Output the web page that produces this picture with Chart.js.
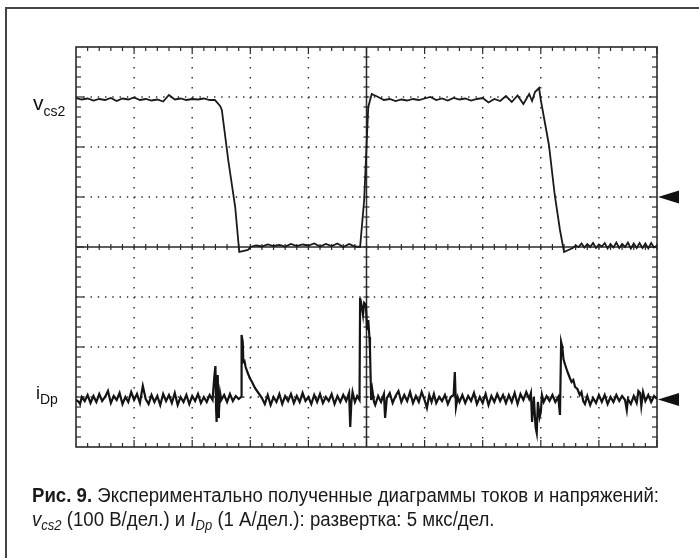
<!DOCTYPE html>
<html>
<head>
<meta charset="utf-8">
<script src="https://cdn.jsdelivr.net/npm/chart.js@4"></script>
<style>
  html, body { margin: 0; padding: 0; background: #fff; }
  #wrap { position: relative; width: 699px; height: 558px; overflow: hidden; background: #fff; }
  #frame { position: absolute; left: 5px; top: 7px; width: 700px; height: 560px;
           border-top: 2px solid #444; border-left: 2px solid #444; }
  #scope { position: absolute; left: 0; top: 0; }
  .lbl { position: absolute; font-family: "Liberation Sans", Arial, sans-serif; color: #111;
         line-height: 1; white-space: nowrap; }
  .lbl sub { font-size: 14px; vertical-align: baseline; position: relative; top: 6px; }
  .cap { position: absolute; left: 32px; font-family: "Liberation Sans Narrow", "Liberation Sans", Arial, sans-serif;
         font-size: 20px; line-height: 1; color: #1a1a1a; white-space: nowrap; transform-origin: 0 0; }
  .cap b { font-weight: bold; }
  .cap sub { font-size: 14px; vertical-align: baseline; position: relative; top: 4px; }
</style>
</head>
<body>
<div id="wrap">
  <div id="frame"></div>
  <canvas id="scope" width="699" height="558"></canvas>
  <div class="lbl" id="lblV" style="left:33px; top:92px; font-size:21px;">v<sub>cs2</sub></div>
  <div class="lbl" id="lblI" style="left:36px; top:384px; font-size:18px;">i<sub style="top:5px">Dp</sub></div>
  <div class="cap" id="cap1" style="top:485px;"><b>Рис. 9.</b> Экспериментально полученные диаграммы токов и напряжений:</div>
  <div class="cap" id="cap2" style="top:509px;"><i>v</i><sub><i>cs2</i></sub> (100 В/дел.) и <i>I</i><sub><i>Dp</i></sub> (1 А/дел.): развертка: 5 мкс/дел.</div>
</div>
<script>
// --- Screen layout (divisions) ---
const xDivisions = [0, 1, 2, 3, 4, 5, 6, 7, 8, 9, 10];
const yDivisions = [-4, -3, -2, -1, 0, 1, 2, 3, 4];
const refLevels = [1, -3.05]; // ground markers on the right edge

// --- v_cs2 trace (div) ---
const vTime = [
  0, 0.1, 0.2, 0.3, 0.4, 0.5, 0.6, 0.7, 0.8, 0.9, 1.0, 1.1, 1.2, 1.3, 1.4, 1.5, 1.6, 1.7, 1.8, 1.9,
  2.0, 2.1, 2.2, 2.3, 2.39, 2.48, 2.51, 2.62, 2.74, 2.81, 2.96,
  3.0, 3.1, 3.2, 3.3, 3.4, 3.5, 3.6, 3.7, 3.8, 3.9, 4.0, 4.1, 4.2, 4.3, 4.4, 4.5, 4.6, 4.7, 4.8, 4.89,
  4.96, 5.03, 5.09, 5.2, 5.3, 5.4, 5.5, 5.6, 5.7, 5.8, 5.9, 6.0, 6.1, 6.2, 6.3, 6.4, 6.5, 6.6, 6.7,
  6.8, 6.9, 7.0, 7.1, 7.2, 7.3, 7.4, 7.5, 7.6, 7.7, 7.8, 7.85, 7.9, 7.97,
  8.0, 8.14, 8.24, 8.33, 8.40, 8.55, 8.6, 8.65, 8.7, 8.75, 8.8, 8.85, 8.9, 8.95, 9.0, 9.05, 9.1, 9.15,
  9.2, 9.25, 9.3, 9.35, 9.4, 9.45, 9.5, 9.55, 9.6, 9.65, 9.7, 9.75, 9.8, 9.85, 9.9, 9.95, 10.0
];
const vVolt = [
  2.98, 2.95, 2.97, 2.93, 2.96, 2.94, 2.98, 2.92, 2.97, 2.95, 2.99, 2.94, 2.96, 2.93, 2.95, 2.91, 3.04, 2.95, 2.97, 2.94,
  2.96, 2.95, 2.97, 2.94, 2.94, 2.82, 2.74, 1.74, 0.80, -0.10, -0.06,
  0.0, 0.03, 0.01, 0.05, 0.02, 0.04, 0.01, 0.06, 0.02, 0.05, 0.03, 0.07, 0.01, 0.06, 0.02, 0.07, 0.0, 0.06, 0.01, 0.0,
  0.94, 2.80, 3.06, 3.0, 2.94, 2.96, 2.92, 2.95, 2.93, 2.96, 2.94, 2.97, 3.0, 2.94, 2.97, 2.93, 2.98, 2.95, 2.97,
  2.93, 2.96, 2.98, 2.89, 2.96, 2.92, 3.02, 2.90, 3.03, 2.86, 3.06, 2.92, 3.10, 3.18,
  2.94, 2.04, 1.04, 0.34, -0.10, -0.02, 0.03, 0.0, 0.07, -0.01, 0.06, 0.0, 0.08, -0.02, 0.05, 0.01, 0.08, -0.03,
  0.06, -0.01, 0.09, -0.02, 0.06, 0.0, 0.09, -0.03, 0.07, -0.02, 0.08, -0.02, 0.07, -0.03, 0.08, -0.01, 0.03
];

// --- i_Dp trace (div) ---
const iTime = [
  0.00, 0.05, 0.07, 0.10, 0.15, 0.20, 0.25, 0.30, 0.35, 0.40, 0.45, 0.50, 0.55, 0.60, 0.65, 0.70, 0.75, 0.80, 0.85, 0.90,
  0.95, 1.00, 1.05, 1.10, 1.15, 1.20, 1.25, 1.30, 1.35, 1.40, 1.45, 1.50, 1.55, 1.60, 1.65, 1.70, 1.75, 1.80, 1.85, 1.90,
  1.95, 2.00, 2.05, 2.10, 2.15, 2.20, 2.25, 2.30, 2.35, 2.38, 2.40, 2.41, 2.42, 2.43, 2.44, 2.45, 2.46, 2.48, 2.50, 2.55,
  2.60, 2.65, 2.70, 2.75, 2.80, 2.84, 2.85, 2.87, 2.88, 2.90, 2.92, 2.95, 2.99, 3.03, 3.08, 3.14, 3.20, 3.25, 3.30, 3.35,
  3.40, 3.45, 3.50, 3.55, 3.60, 3.65, 3.70, 3.75, 3.80, 3.85, 3.90, 3.95, 4.00, 4.05, 4.10, 4.15, 4.20, 4.25, 4.30, 4.35,
  4.40, 4.45, 4.50, 4.55, 4.60, 4.65, 4.70, 4.72, 4.74, 4.76, 4.80, 4.84, 4.88, 4.89, 4.92, 4.94, 4.96, 4.99, 5.01, 5.03,
  5.05, 5.06, 5.08, 5.10, 5.13, 5.15, 5.20, 5.25, 5.30, 5.32, 5.35, 5.40, 5.45, 5.50, 5.55, 5.60, 5.65, 5.70, 5.75, 5.80,
  5.85, 5.90, 5.95, 6.00, 6.04, 6.08, 6.12, 6.16, 6.20, 6.25, 6.30, 6.35, 6.40, 6.45, 6.50, 6.52, 6.54, 6.57, 6.60, 6.65,
  6.70, 6.75, 6.80, 6.85, 6.90, 6.95, 7.00, 7.05, 7.10, 7.15, 7.20, 7.25, 7.30, 7.35, 7.40, 7.45, 7.50, 7.55, 7.60, 7.65,
  7.70, 7.75, 7.80, 7.83, 7.85, 7.88, 7.91, 7.93, 7.95, 7.98, 8.00, 8.02, 8.05, 8.10, 8.15, 8.20, 8.25, 8.30, 8.33, 8.35,
  8.37, 8.39, 8.42, 8.46, 8.50, 8.53, 8.56, 8.59, 8.63, 8.67, 8.70, 8.73, 8.76, 8.80, 8.85, 8.90, 8.95, 9.00, 9.05, 9.10,
  9.15, 9.20, 9.25, 9.30, 9.35, 9.40, 9.45, 9.48, 9.50, 9.55, 9.60, 9.65, 9.68, 9.71, 9.73, 9.76, 9.80, 9.85, 9.90, 9.95,
  10.00
];
const iAmp = [
  -3.06, -3.10, -3.14, -3.00, -3.08, -2.96, -3.12, -2.98, -3.10, -2.94, -3.08, -3.00, -2.88, -3.12, -2.98, -3.06, -2.92, -3.14, -3.00, -3.10,
  -2.90, -3.06, -2.94, -3.12, -2.78, -3.04, -3.14, -2.96, -3.10, -2.98, -3.16, -2.94, -3.08, -2.96, -3.12, -2.92, -3.16, -3.00, -3.10, -2.96,
  -3.14, -2.98, -3.08, -2.94, -3.12, -3.00, -3.10, -2.96, -3.06, -2.60, -2.38, -3.20, -3.50, -2.70, -2.56, -3.40, -3.30, -2.92, -3.06, -2.96,
  -3.10, -2.94, -3.08, -2.98, -3.04, -3.00, -1.76, -1.90, -2.30, -2.28, -2.40, -2.50, -2.62, -2.70, -2.82, -2.92, -3.02, -3.14, -2.96, -3.16,
  -3.00, -3.10, -2.94, -3.14, -2.98, -3.08, -2.94, -3.12, -2.98, -3.10, -2.92, -3.08, -3.00, -3.14, -2.96, -3.10, -2.94, -3.12, -3.00, -3.08,
  -2.94, -3.14, -2.98, -3.10, -2.96, -3.08, -2.92, -3.60, -3.10, -2.90, -3.10, -2.98, -3.06, -1.02, -1.20, -1.36, -1.12, -1.16, -1.66, -1.46,
  -1.80, -2.06, -3.06, -2.86, -3.10, -3.16, -2.98, -3.10, -2.94, -3.42, -3.02, -2.92, -3.12, -2.98, -2.88, -3.10, -2.96, -3.08, -2.90, -3.12,
  -2.98, -3.10, -2.90, -3.06, -3.22, -2.96, -3.10, -2.94, -3.12, -3.00, -3.08, -2.96, -3.14, -3.00, -2.96, -2.50, -3.20, -3.00, -3.10, -2.96,
  -3.12, -2.98, -3.08, -2.92, -3.14, -3.00, -3.12, -2.94, -3.16, -2.98, -3.10, -2.94, -3.08, -2.96, -3.12, -2.96, -3.10, -2.92, -3.14, -2.94,
  -3.06, -2.90, -3.04, -2.92, -3.50, -3.00, -3.60, -3.72, -3.10, -3.40, -3.30, -2.96, -3.10, -2.98, -3.08, -2.96, -3.10, -3.00, -3.36, -1.90,
  -2.00, -2.24, -2.36, -2.50, -2.62, -2.70, -2.66, -2.80, -2.84, -2.96, -2.90, -3.08, -3.14, -2.98, -3.16, -3.02, -3.12, -2.96, -3.10, -2.96,
  -3.14, -3.00, -3.10, -2.96, -3.08, -2.98, -3.06, -3.26, -3.04, -3.14, -2.98, -3.12, -2.88, -2.92, -3.18, -2.90, -3.08, -2.96, -3.10, -2.98,
  -3.04
];

const toPoints = (xs, ys) => xs.map((t, k) => ({ x: t, y: ys[k] }));

// --- Scope graticule: dotted grid, centre cross, border ticks, ground markers ---
const graticule = {
  id: 'graticule',
  beforeDatasetsDraw(chart) {
    const { ctx, chartArea: a, scales: { x, y } } = chart;
    const seg = (x1, y1, x2, y2) => { ctx.beginPath(); ctx.moveTo(x1, y1); ctx.lineTo(x2, y2); ctx.stroke(); };
    ctx.save();
    ctx.strokeStyle = '#2a2a2a';

    // dotted division lines
    ctx.lineWidth = 1.4;
    const hDot = (x.getPixelForValue(1) - x.getPixelForValue(0)) / 8;
    const vDot = (y.getPixelForValue(0) - y.getPixelForValue(1)) / 5;
    ctx.setLineDash([1.4, vDot - 1.4]);
    xDivisions.slice(1, -1).forEach(v => {
      if (v === 5) return;
      const px = x.getPixelForValue(v);
      seg(px, a.top, px, a.bottom);
    });
    ctx.setLineDash([1.4, hDot - 1.4]);
    yDivisions.slice(1, -1).forEach(v => {
      if (v === 0) return;
      const py = y.getPixelForValue(v);
      seg(a.left, py, a.right, py);
    });
    ctx.setLineDash([]);

    // centre cross
    ctx.lineWidth = 1.5;
    const cx = x.getPixelForValue(5), cy = y.getPixelForValue(0);
    seg(cx, a.top, cx, a.bottom);
    seg(a.left, cy, a.right, cy);

    // minor ticks (5 per division)
    ctx.lineWidth = 1.2;
    for (let v = 0.2; v < 10; v += 0.2) {
      const px = x.getPixelForValue(v);
      const major = Math.abs(v - Math.round(v)) < 1e-6;
      seg(px, a.top, px, a.top + (major ? 7 : 4));
      seg(px, a.bottom, px, a.bottom - (major ? 7 : 4));
      seg(px, cy - 3, px, cy + 3);
    }
    for (let v = -3.8; v < 4; v += 0.2) {
      const py = y.getPixelForValue(v);
      const major = Math.abs(v - Math.round(v)) < 1e-6;
      seg(a.left, py, a.left + (major ? 8 : 5), py);
      seg(a.right, py, a.right - (major ? 8 : 5), py);
      seg(cx - 3, py, cx + 3, py);
    }

    // border
    ctx.lineWidth = 1.6;
    ctx.strokeRect(a.left, a.top, a.right - a.left, a.bottom - a.top);
    ctx.restore();
  },
  afterDraw(chart) {
    const { ctx, chartArea: a, scales: { y } } = chart;
    ctx.save();
    ctx.fillStyle = '#111';
    refLevels.forEach(v => {
      const py = y.getPixelForValue(v);
      ctx.beginPath();
      ctx.moveTo(a.right + 1, py);
      ctx.lineTo(a.right + 22, py - 6.5);
      ctx.lineTo(a.right + 22, py + 6.5);
      ctx.closePath();
      ctx.fill();
    });
    ctx.restore();
  }
};

new Chart(document.getElementById('scope'), {
  type: 'line',
  data: {
    datasets: [
      { label: 'vcs2', data: toPoints(vTime, vVolt), borderColor: '#1a1a1a', borderWidth: 1.8 },
      { label: 'iDp', data: toPoints(iTime, iAmp), borderColor: '#141414', borderWidth: 2.2 }
    ]
  },
  options: {
    responsive: false,
    animation: false,
    devicePixelRatio: 1,
    layout: { padding: { left: 76, top: 47, right: 42, bottom: 111 } },
    elements: { point: { radius: 0 }, line: { tension: 0 } },
    scales: {
      x: { type: 'linear', min: xDivisions[0], max: xDivisions[xDivisions.length - 1], display: false },
      y: { type: 'linear', min: yDivisions[0], max: yDivisions[yDivisions.length - 1], display: false }
    },
    plugins: { legend: { display: false }, tooltip: { enabled: false } }
  },
  plugins: [graticule]
});

// fit caption to the original line width
const cap1 = document.getElementById('cap1');
const cap2 = document.getElementById('cap2');
const k = 627 / cap1.getBoundingClientRect().width;
cap1.style.transform = `scaleX(${k})`;
cap2.style.transform = `scaleX(${k})`;
</script>
</body>
</html>
